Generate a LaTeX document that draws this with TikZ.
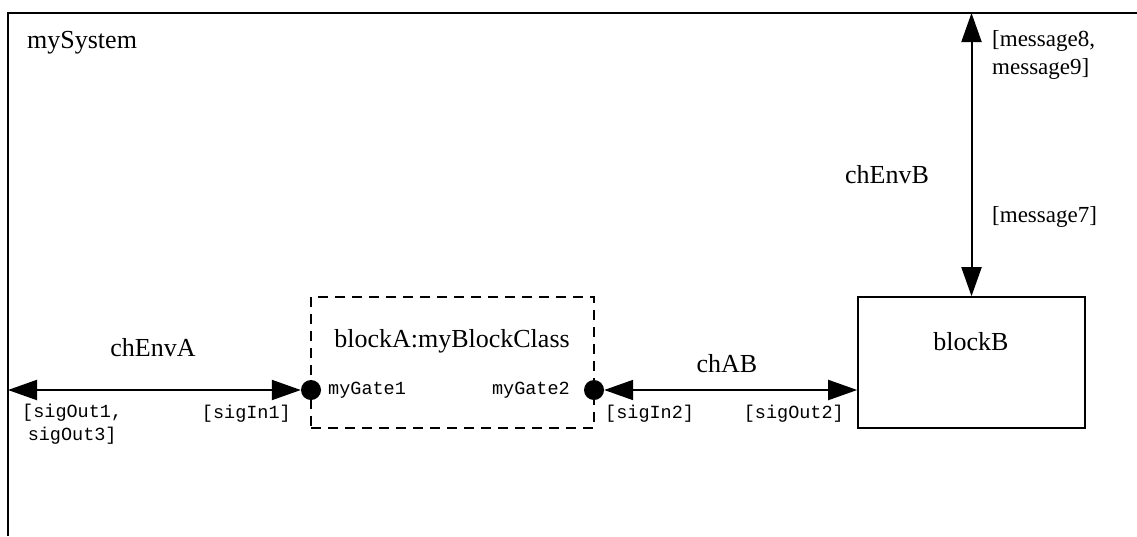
\documentclass[tikz,border=0pt]{standalone}
\usepackage{fontspec}
\setmainfont{Liberation Serif}
\setmonofont{Liberation Mono}
\usetikzlibrary{arrows.meta}
\begin{document}
\begin{tikzpicture}[x=1pt,y=-1pt,
  line/.style={line width=2pt},
  chan/.style={line width=2pt,{Triangle[length=29pt,width=20pt]}-{Triangle[length=29pt,width=20pt]}},
  lbl/.style={inner sep=0pt,font=\fontsize{26}{29}\selectfont},
  sig/.style={inner sep=0pt,font=\fontsize{18.5}{23}\selectfont\ttfamily},
  gate/.style={circle,fill=black,inner sep=0pt,minimum size=20pt},
  blk/.style={draw,line width=1.6pt,inner sep=0pt}]
\useasboundingbox (0,0) rectangle (1137,536);
% outer frame
\coordinate (fl) at (8,536);
\coordinate (ftl) at (8,13);
\coordinate (fr) at (1137,13);
\draw[line] (fl) -- (ftl) -- (fr);
\node[lbl,anchor=west] (sys) at (27,43) {mySystem};
% blockA
\node[blk,dashed,dash pattern=on 10pt off 7pt,minimum width=283pt,minimum height=131pt] (blockA) at (452.5,362.5) {};
\node[lbl] (blockAlbl) at (452,341) {blockA:myBlockClass};
\node[gate] (g1) at (311,390) {};
\node[gate] (g2) at (594,390) {};
\node[sig,anchor=west] (g1lbl) at (328,390) {myGate1};
\node[sig,anchor=east] (g2lbl) at (570,390) {myGate2};
% blockB
\node[blk,minimum width=227pt,minimum height=131pt] (blockB) at (971.5,362.5) {};
\node[lbl] (blockBlbl) at (971,342) {blockB};
% chEnvA
\coordinate (envA) at (8,390);
\draw[chan] (envA) -- (g1);
\node[lbl] (chEnvA) at (153,348) {chEnvA};
\node[sig,align=center,anchor=north west] (sigout) at (22,404) {[sigOut1,\\sigOut3]};
\node[sig,anchor=east] (sigin1) at (291,414) {[sigIn1]};
% chAB
\draw[chan] (g2) -- (blockB.west|-g2);
\node[lbl] (chAB) at (727,364) {chAB};
\node[sig,anchor=west] (sigin2) at (605,414) {[sigIn2]};
\node[sig,anchor=east] (sigout2) at (844,414) {[sigOut2]};
% chEnvB
\coordinate (envB) at (blockB.north|-fr);
\draw[chan] (envB) -- (blockB.north);
\node[lbl] (chEnvB) at (887,175) {chEnvB};
\node[lbl,align=left,anchor=north west,font=\fontsize{23}{28}\selectfont] (m89) at (992,30) {[message8,\\message9]};
\node[lbl,anchor=west,font=\fontsize{23}{28}\selectfont] (m7) at (992,217) {[message7]};
\end{tikzpicture}
\end{document}
